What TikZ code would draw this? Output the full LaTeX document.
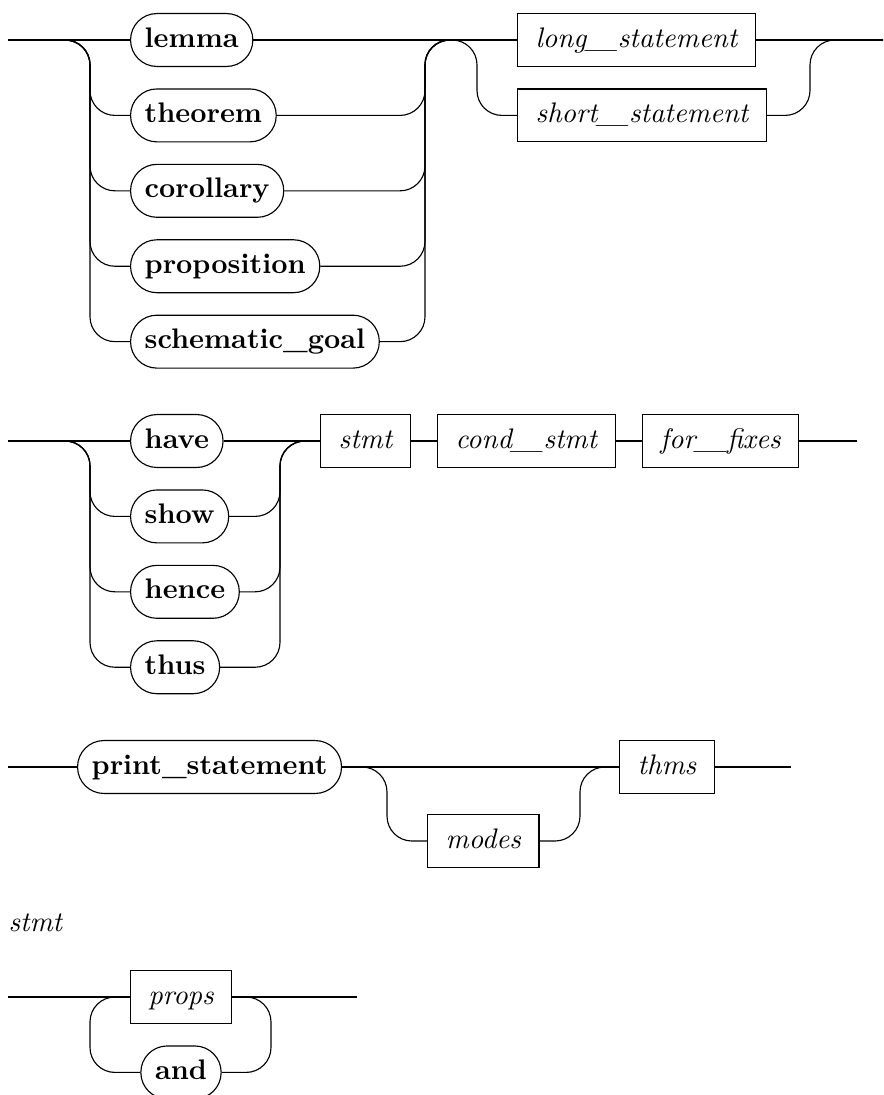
\documentclass[tikz,border=0pt]{standalone}
\usepackage{graphicx}
\usetikzlibrary{positioning}
\newcommand{\usc}{\scalebox{1.5}[1]{\_}}

\begin{document}
\begin{tikzpicture}[
  x=0.3534pt, y=-0.3534pt,
  node distance=7.55pt,
  term/.style={rectangle, draw, rounded corners=9.3pt, font=\bfseries, minimum height=18.7pt, inner xsep=5pt, text height=7pt, text depth=2pt, anchor=west},
  nonterm/.style={rectangle, draw, font=\itshape, minimum height=18.7pt, inner xsep=6.4pt, text height=7pt, text depth=2pt, anchor=west},
  rail/.style={rounded corners=8.8pt}
]
\useasboundingbox (0,0) rectangle (884,1095);

% theorem statements
\coordinate (in1) at (8,40);
\coordinate (l1) at (90,40);
\coordinate (r1) at (425,40);
\coordinate (j1) at (451,40);
\coordinate (l2) at (477,40);
\coordinate (r2) at (810,40);
\coordinate (out1) at (883,40);
\node[term] (lemma) at (130,40) {lemma};
\node[term, below=of lemma.south west, anchor=north west] (theorem) {theorem};
\node[term, below=of theorem.south west, anchor=north west] (corollary) {corollary};
\node[term, below=of corollary.south west, anchor=north west] (proposition) {proposition};
\node[term, below=of proposition.south west, anchor=north west] (schematic) {schematic\_goal};
\node[nonterm] (longstmt) at (517,40) {long\usc statement};
\node[nonterm, below=of longstmt.south west, anchor=north west] (shortstmt) {short\usc statement};

\draw (in1) -- (lemma.west);
\draw (lemma.east) -- (longstmt.west);
\draw (longstmt.east) -- (out1);
\foreach \n in {theorem,corollary,proposition,schematic} {
  \draw[rail] (in1) -| (l1 |- \n.west) -- (\n.west);
  \draw[rail] (\n.east) -| (r1) -- (j1);
}
\draw[rail] (j1) -| (l2 |- shortstmt.west) -- (shortstmt.west);
\draw[rail] (shortstmt.east) -| (r2) -- (out1);

% have / show
\coordinate (in2) at (8,441);
\coordinate (l3) at (90,441);
\coordinate (r3) at (280,441);
\coordinate (out2) at (857,441);
\node[term] (have) at (130,441) {have};
\node[term, below=of have.south west, anchor=north west] (show) {show};
\node[term, below=of show.south west, anchor=north west] (hence) {hence};
\node[term, below=of hence.south west, anchor=north west] (thus) {thus};
\node[nonterm] (stmt) at (320,441) {stmt};
\node[nonterm, right=9.2pt of stmt] (condstmt) {cond\usc stmt};
\node[nonterm, right=9.2pt of condstmt] (forfixes) {for\usc fixes};

\draw (in2) -- (have.west);
\draw (have.east) -- (stmt.west);
\foreach \n in {show,hence,thus} {
  \draw[rail] (in2) -| (l3 |- \n.west) -- (\n.west);
  \draw[rail] (\n.east) -| (r3) -- (stmt.west);
}
\draw (stmt.east) -- (condstmt.west);
\draw (condstmt.east) -- (forfixes.west);
\draw (forfixes.east) -- (out2);

% print_statement
\coordinate (in3) at (8,767);
\coordinate (l4) at (387,767);
\coordinate (r4) at (580,767);
\coordinate (out3) at (791,767);
\node[term] (print) at (77,767) {print\_statement};
\node[nonterm] (modes) at (427,841) {modes};
\node[nonterm] (thms) at (619,767) {thms};

\draw (in3) -- (print.west);
\draw (print.east) -- (thms.west);
\draw[rail] (print.east) -| (l4 |- modes.west) -- (modes.west);
\draw[rail] (modes.east) -| (r4) -- (thms.west);
\draw (thms.east) -- (out3);

% stmt
\node[font=\itshape, anchor=west, inner sep=0pt] (stmtlabel) at (8,923) {stmt};
\coordinate (in4) at (8,997);
\coordinate (l5) at (90,997);
\coordinate (r5) at (271,997);
\coordinate (out4) at (357,997);
\node[nonterm, anchor=center] (props) at (181,997) {props};
\node[term, below=of props] (and) {and};

\draw (in4) -- (props.west);
\draw (props.east) -- (out4);
\draw[rail] (props.east) -| (r5 |- and.east) -- (and.east);
\draw[rail] (and.west) -| (l5) -- (props.west);
\end{tikzpicture}
\end{document}
